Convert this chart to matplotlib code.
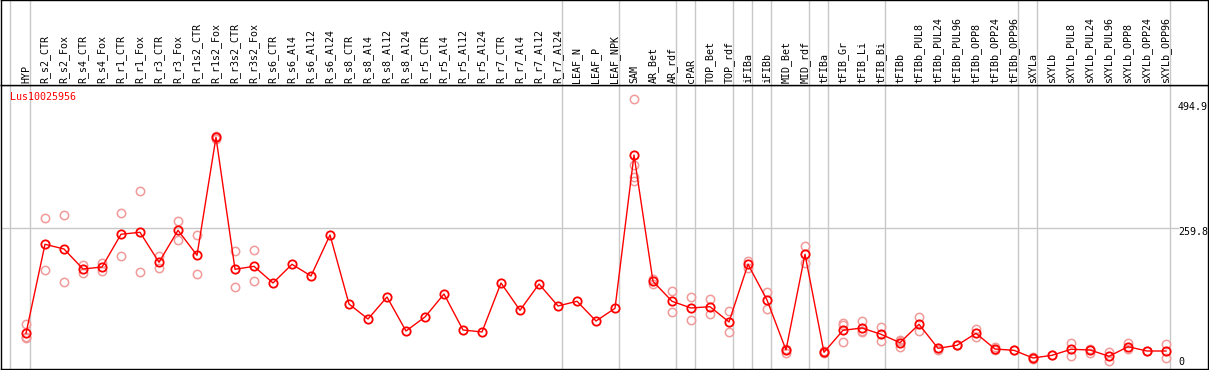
import numpy as np
import matplotlib
matplotlib.use("Agg")
import matplotlib.pyplot as plt

# --- DATA ---
GENE_ID = "Lus10025956"

labels = [
    "HYP", "R_s2_CTR", "R_s2_Fox", "R_s4_CTR", "R_s4_Fox", "R_r1_CTR", "R_r1_Fox",
    "R_r3_CTR", "R_r3_Fox", "R_r1s2_CTR", "R_r1s2_Fox", "R_r3s2_CTR", "R_r3s2_Fox",
    "R_s6_CTR", "R_s6_Al4", "R_s6_Al12", "R_s6_Al24", "R_s8_CTR", "R_s8_Al4",
    "R_s8_Al12", "R_s8_Al24", "R_r5_CTR", "R_r5_Al4", "R_r5_Al12", "R_r5_Al24",
    "R_r7_CTR", "R_r7_Al4", "R_r7_Al12", "R_r7_Al24", "LEAF_N", "LEAF_P", "LEAF_NPK",
    "SAM", "AR_Bet", "AR_rdf", "cPAR", "TOP_Bet", "TOP_rdf", "iFIBa", "iFIBb",
    "MID_Bet", "MID_rdf", "tFIBa", "tFIB_Gr", "tFIB_Li", "tFIB_Bi", "tFIBb",
    "tFIBb_PUL8", "tFIBb_PUL24", "tFIBb_PUL96", "tFIBb_OPP8", "tFIBb_OPP24",
    "tFIBb_OPP96", "sXYLa", "sXYLb", "sXYLb_PUL8", "sXYLb_PUL24", "sXYLb_PUL96",
    "sXYLb_OPP8", "sXYLb_OPP24", "sXYLb_OPP96",
]

means = [
    64.5, 230.1, 221.3, 184.1, 187.8, 248.7, 252.4, 196.6, 256.1, 209.6, 429.1,
    183.6, 189.1, 158.1, 192.9, 171.1, 247.4, 119.0, 91.1, 132.0, 68.8, 94.9,
    137.6, 70.7, 67.0, 158.1, 107.3, 156.2, 115.3, 124.1, 87.4, 111.0,
    396.1, 161.2, 124.1, 111.6, 114.0, 85.6, 192.9, 126.5, 33.5, 211.5, 29.2,
    70.1, 74.4, 62.7, 47.1, 81.3, 36.6, 42.2, 64.5, 35.3, 32.9, 18.6, 23.6,
    34.8, 33.5, 21.8, 39.6, 31.6, 31.6,
]

replicates = [
    [81.8, 58.2, 55.2], [278.4, 182.3], [284.0, 159.4], [191.6, 176.1],
    [194.7, 181.0], [287.7, 207.7], [328.6, 178.0], [208.3, 186.5],
    [273.4, 237.5], [246.8, 174.8], [432.0, 425.9], [217.6, 150.1],
    [219.5, 161.2], [], [], [], [], [], [], [], [], [], [], [], [], [], [], [], [],
    [], [], [],
    [500.0, 377.5, 355.8, 348.3], [165.0, 156.2], [142.6, 103.6], [131.5, 88.7],
    [127.8, 99.9], [105.5, 66.4], [199.6, 185.4], [140.8, 109.2], [35.3, 27.3],
    [226.3, 195.8], [30.7, 27.3], [84.2, 80.0, 48.4], [87.4, 68.8, 67.0],
    [76.3, 50.8], [50.2, 39.1, 52.0], [94.9, 69.4], [37.8, 34.0], [42.2, 42.2],
    [72.5, 57.1], [39.6, 33.5], [32.9], [21.0, 16.2], [23.6], [45.9, 22.9],
    [35.9, 28.5], [29.2, 13.6], [45.9, 34.8], [31.6], [44.6, 18.0],
]

# group separators come after these column indices
group_ends = [0, 28, 31, 34, 35, 37, 38, 39, 41, 42, 45, 52, 53, 60]

y_ticks = [494.9, 259.8, 0]
y_grid = 259.8

# --- STYLE ---
W, H, DPI = 1209, 370, 100
RED = "#ff0000"
PINK = "#f09a9a"
GRID = "#c8c8c8"
FONT = "DejaVu Sans Mono"
FS = 7.2

X0_PX, STEP_PX = 26.0, 19.0      # pixel x of first column, column pitch
HEAD_PX = 85                     # header height
BOT_PX = 369                     # bottom border row


def px2col(px):
    return (px - X0_PX) / STEP_PX


fig = plt.figure(figsize=(W / DPI, H / DPI), dpi=DPI)
fig.patch.set_facecolor("white")

left = 1 / W
width = 1207 / W
ax = fig.add_axes([left, 1 - BOT_PX / H, width, (BOT_PX - HEAD_PX) / H])
hx = fig.add_axes([left, 1 - HEAD_PX / H, width, HEAD_PX / H], sharex=ax)

ax.set_xlim(px2col(1), px2col(1208))

# y scale: 0 sits at pixel row ~368, 259.8 at row ~228
k = (368 - 228.3) / 259.8
ax.set_ylim((368 - BOT_PX) / k, (368 - HEAD_PX) / k)
hx.set_ylim(0, HEAD_PX)

for a in (ax, hx):
    a.set_xticks([])
    a.set_yticks([])
    for s in a.spines.values():
        s.set_color("black")
        s.set_linewidth(1.0)
    # vertical separators
    a.axvline(px2col(10), color=GRID, lw=1.0, zorder=0)
    for g in group_ends:
        a.axvline(g + 4.3 / STEP_PX, color=GRID, lw=1.0, zorder=0)

# horizontal grid line stops just before the value labels
ax.axhline(y_grid, xmin=0, xmax=(1178 - 1) / 1207, color=GRID, lw=1.0, zorder=0)

x = np.arange(len(labels))

# replicates
rx = [i for i, r in enumerate(replicates) for _ in r]
ry = [v for r in replicates for v in r]
ax.plot(rx, ry, linestyle="none", marker="o", markersize=6.0,
        markerfacecolor="none", markeredgecolor=PINK, markeredgewidth=1.1, zorder=2)

# mean line and markers
ax.plot(x, means, color=RED, lw=1.0, zorder=3)
ax.plot(x, means, linestyle="none", marker="o", markersize=6.0,
        markerfacecolor="none", markeredgecolor=RED, markeredgewidth=1.3, zorder=4)

# column labels in the header
for i, lab in enumerate(labels):
    hx.text(i, 2, lab, rotation=90, ha="center", va="bottom",
            family=FONT, fontsize=FS, color="black")

# gene id
ax.text(px2col(10), (368 - 97) / k, GENE_ID, ha="left", va="center",
        family=FONT, fontsize=FS, color=RED)

# value labels on the right
label_rows = [107, 232, 362]
for val, row in zip(y_ticks, label_rows):
    txt = "0" if val == 0 else f"{val:.1f}"
    ax.text(px2col(1178), (368 - row) / k, txt, ha="left", va="center",
            family=FONT, fontsize=FS, color="black")

fig.savefig("out.png", dpi=DPI, facecolor="white")
